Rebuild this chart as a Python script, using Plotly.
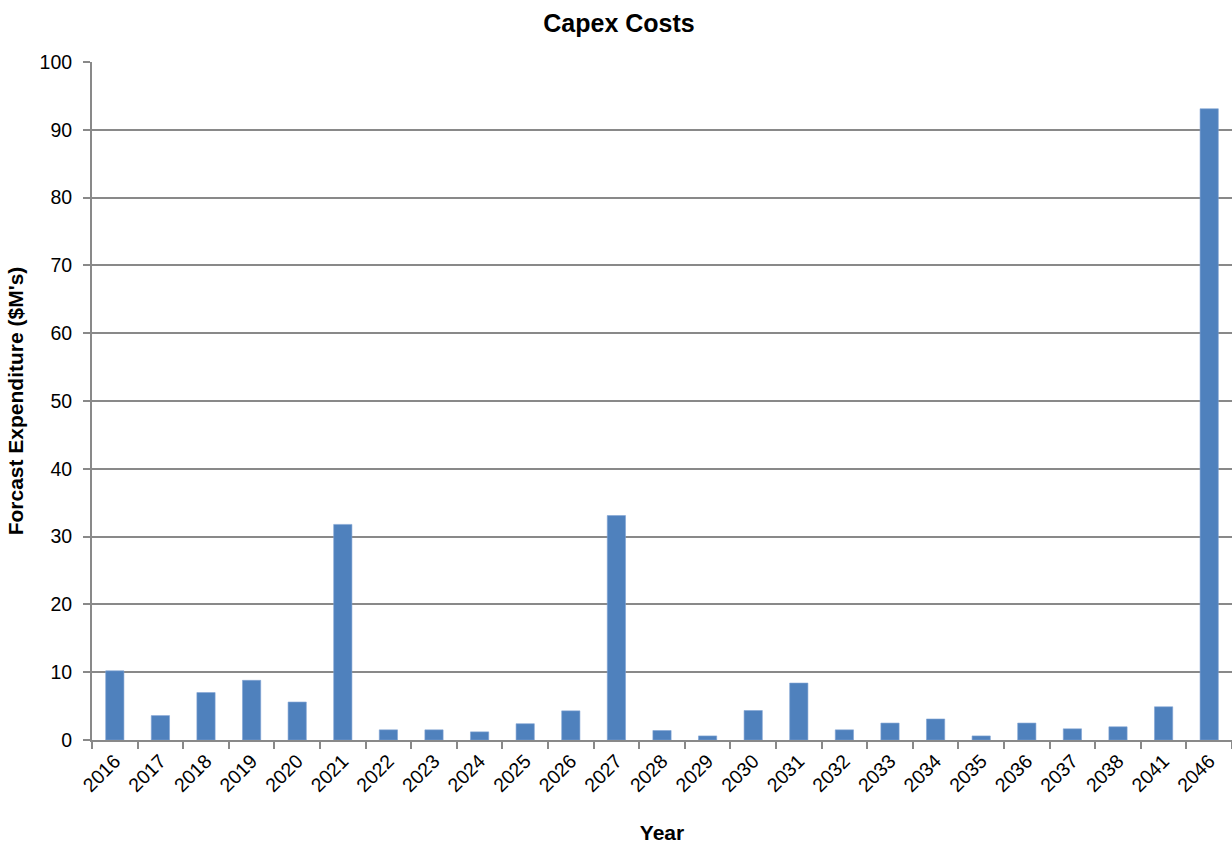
import plotly.graph_objects as go

years = ["2016", "2017", "2018", "2019", "2020", "2021", "2022", "2023", "2024",
         "2025", "2026", "2027", "2028", "2029", "2030", "2031", "2032", "2033",
         "2034", "2035", "2036", "2037", "2038", "2041", "2046"]
capex = [10.2, 3.6, 7.0, 8.8, 5.6, 31.8, 1.5, 1.5, 1.2,
         2.4, 4.3, 33.1, 1.4, 0.6, 4.35, 8.4, 1.5, 2.5,
         3.1, 0.6, 2.5, 1.65, 1.95, 4.9, 93.1]
y_ticks = [0, 10, 20, 30, 40, 50, 60, 70, 80, 90, 100]

axis_grey = "#898989"
font_family = "Liberation Sans, Arial, sans-serif"

fig = go.Figure(
    go.Bar(
        x=years,
        y=capex,
        marker=dict(color="#4F81BD", line=dict(color="#7FA3D3", width=0.6)),
        width=0.4,
    )
)

fig.update_layout(
    width=1232,
    height=845,
    margin=dict(l=92, r=0, t=62, b=105),
    paper_bgcolor="white",
    plot_bgcolor="white",
    showlegend=False,
    font=dict(family=font_family, size=19.5, color="black"),
    title=dict(
        text="<b>Capex Costs</b>",
        xref="container",
        x=619 / 1232,
        xanchor="center",
        y=1 - 23 / 845,
        yanchor="middle",
        font=dict(size=25, family=font_family, color="black"),
    ),
)

fig.update_xaxes(
    type="category",
    showline=True,
    linecolor=axis_grey,
    linewidth=2,
    ticks="outside",
    tickson="boundaries",
    ticklen=7,
    tickwidth=2,
    tickcolor=axis_grey,
    tickangle=-45,
    tickfont=dict(size=19.5, family=font_family, color="black"),
    showgrid=False,
    title=dict(text="<b>Year</b>", font=dict(size=21, family=font_family), standoff=30),
)

fig.update_yaxes(
    range=[0, 100],
    tickvals=y_ticks,
    showline=True,
    linecolor=axis_grey,
    linewidth=2,
    ticks="outside",
    ticklen=7,
    tickwidth=2,
    tickcolor=axis_grey,
    ticklabelstandoff=7,
    showgrid=True,
    gridcolor=axis_grey,
    gridwidth=2,
    zeroline=False,
    tickfont=dict(size=19.5, family=font_family, color="black"),
    title=dict(text="<b>Forcast Expenditure ($M's)</b>", font=dict(size=21, family=font_family), standoff=10),
)

fig.write_html("out.html")
